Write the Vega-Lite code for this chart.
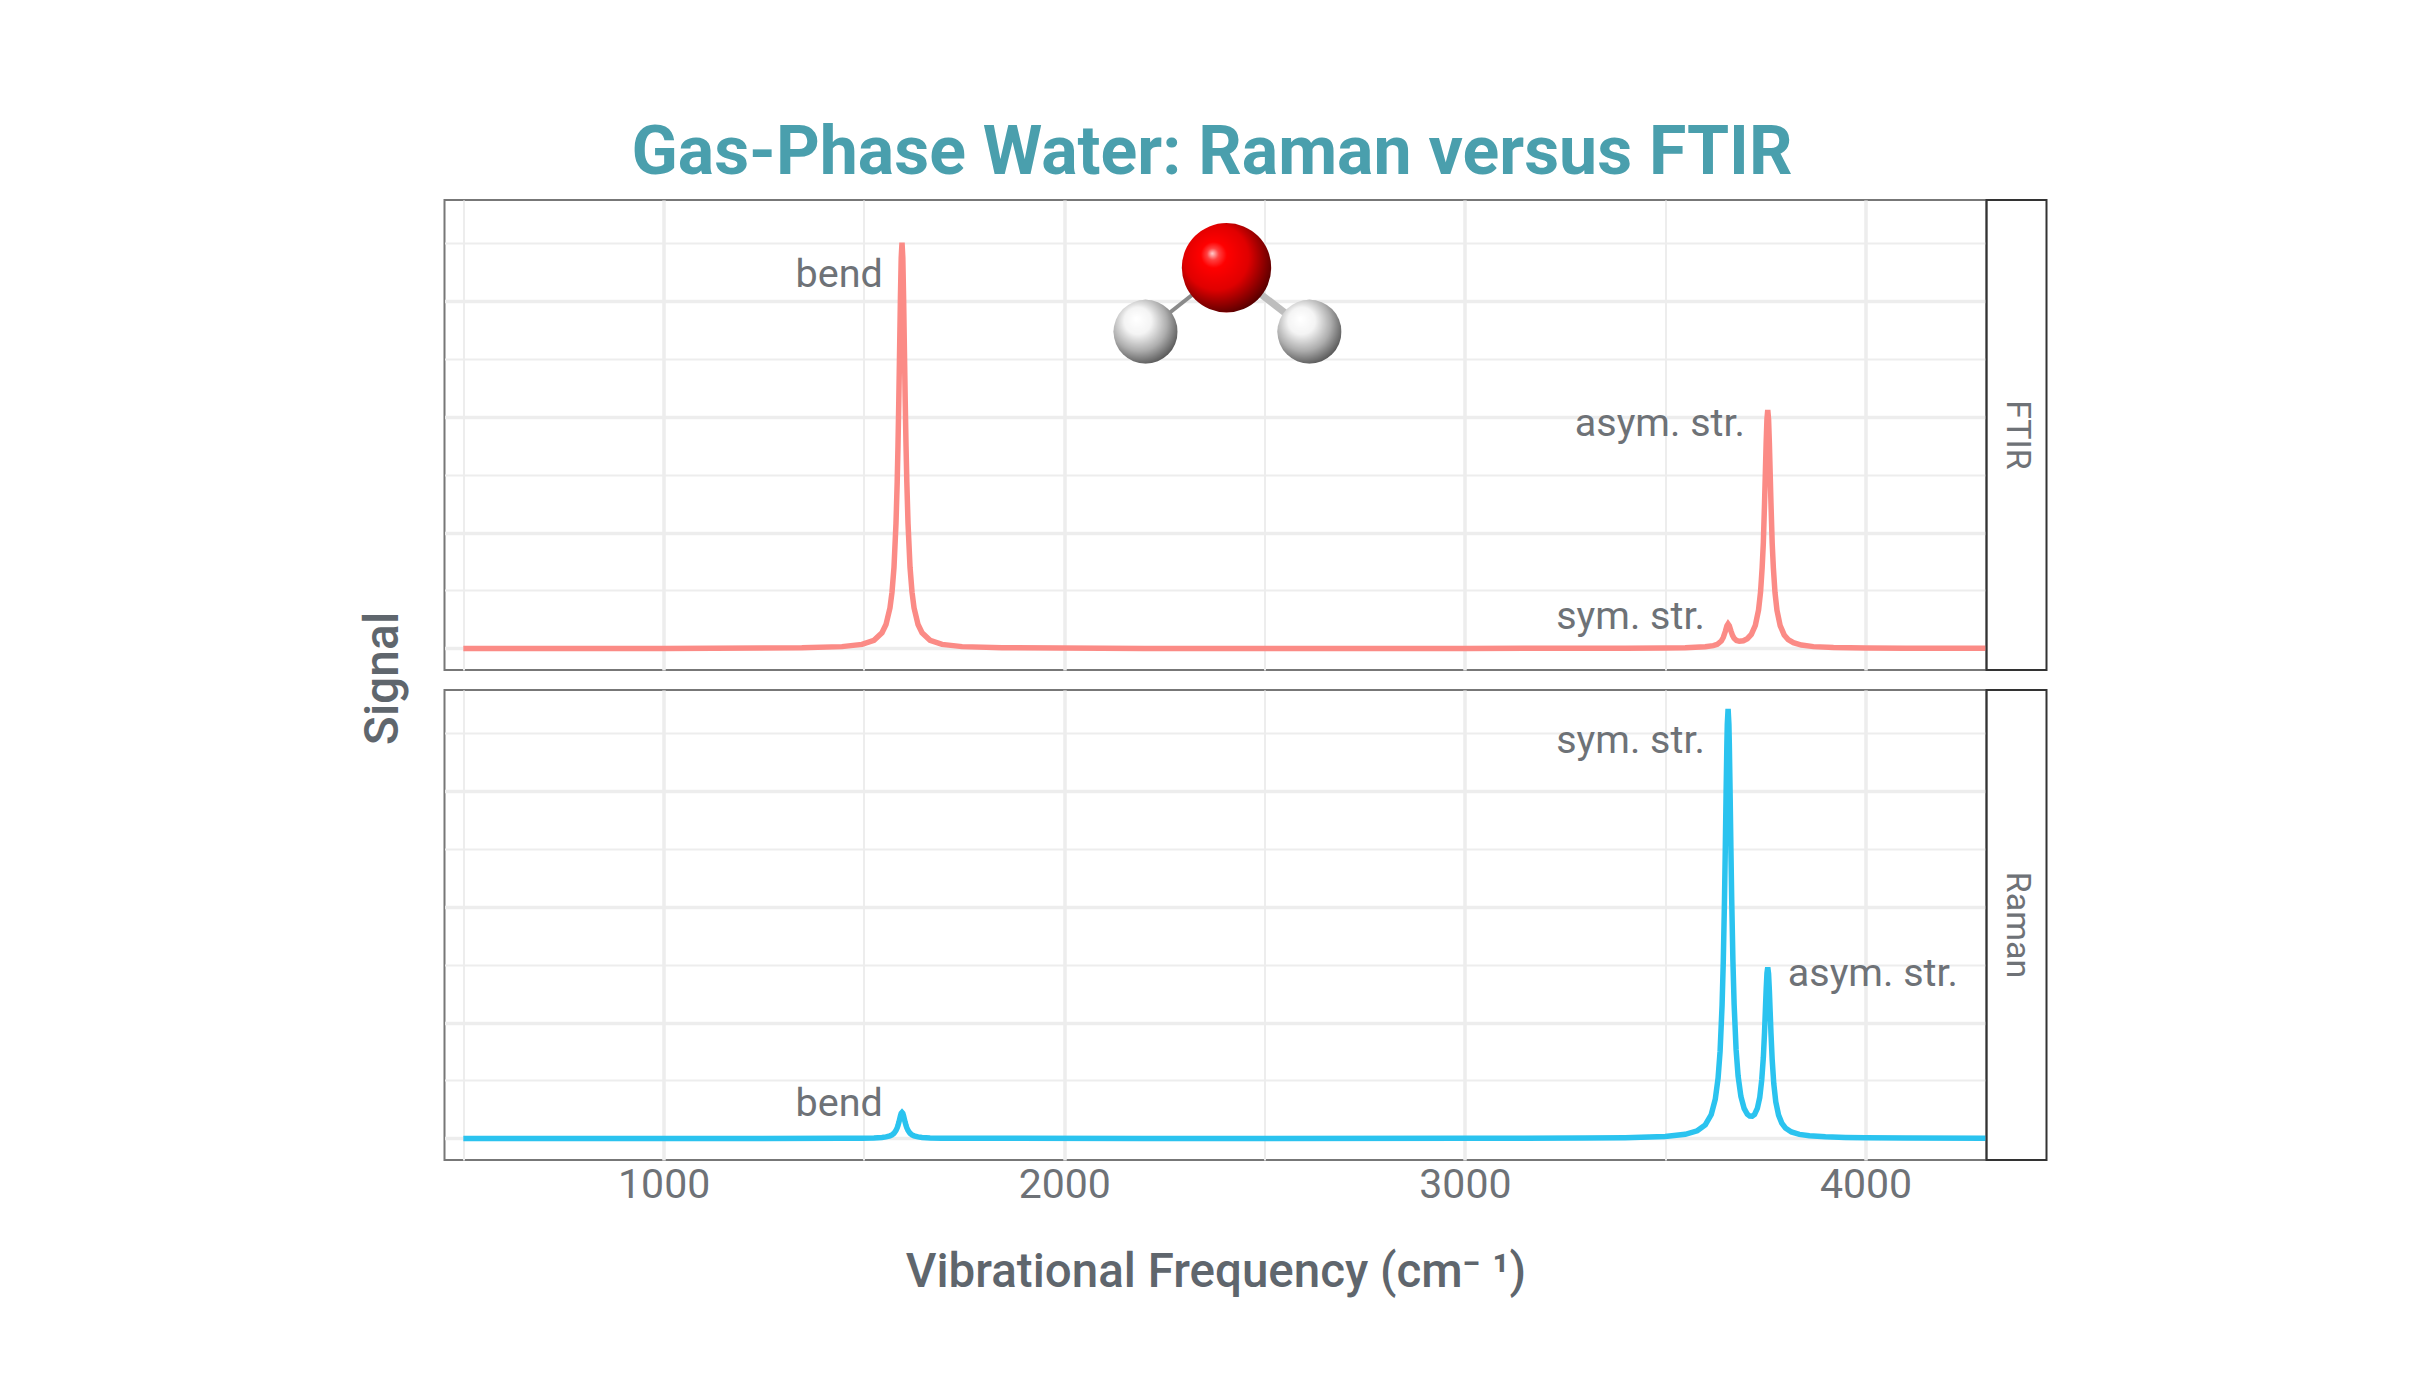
{
  "$schema": "https://vega.github.io/schema/vega-lite/v6.json",
  "background": "white",
  "padding": {"left": 358.5, "top": 120, "right": 10, "bottom": 10},
  "bounds": "flush",
  "title": {
    "text": "Gas-Phase Water: Raman versus FTIR",
    "anchor": "middle",
    "dx": 9,
    "font": "Roboto",
    "fontSize": 68,
    "fontWeight": 700,
    "color": "#4A9FAD",
    "offset": 11
  },
  "config": {
    "font": "Roboto",
    "view": {"stroke": "#777777", "strokeWidth": 2},
    "axis": {
      "domain": false,
      "ticks": false,
      "labels": false,
      "grid": true,
      "gridColor": "#EDEDED"
    }
  },
  "datasets": {
    "ftir": [
      {"freq": 500, "signal": 0},
      {"freq": 1000, "signal": 0},
      {"freq": 1345, "signal": 0.0014},
      {"freq": 1445, "signal": 0.0039},
      {"freq": 1495, "signal": 0.0087},
      {"freq": 1525, "signal": 0.0175},
      {"freq": 1545, "signal": 0.0337},
      {"freq": 1555, "signal": 0.0515},
      {"freq": 1565, "signal": 0.0875},
      {"freq": 1570, "signal": 0.121},
      {"freq": 1575, "signal": 0.175},
      {"freq": 1580, "signal": 0.27},
      {"freq": 1583, "signal": 0.359},
      {"freq": 1585, "signal": 0.4375},
      {"freq": 1587, "signal": 0.534},
      {"freq": 1589, "signal": 0.643},
      {"freq": 1591, "signal": 0.754},
      {"freq": 1593, "signal": 0.842},
      {"freq": 1595, "signal": 0.875},
      {"freq": 1597, "signal": 0.842},
      {"freq": 1599, "signal": 0.754},
      {"freq": 1601, "signal": 0.643},
      {"freq": 1603, "signal": 0.534},
      {"freq": 1605, "signal": 0.4375},
      {"freq": 1607, "signal": 0.359},
      {"freq": 1610, "signal": 0.27},
      {"freq": 1615, "signal": 0.175},
      {"freq": 1620, "signal": 0.121},
      {"freq": 1625, "signal": 0.0875},
      {"freq": 1635, "signal": 0.0515},
      {"freq": 1645, "signal": 0.0337},
      {"freq": 1665, "signal": 0.0175},
      {"freq": 1695, "signal": 0.0087},
      {"freq": 1745, "signal": 0.0039},
      {"freq": 1845, "signal": 0.0014},
      {"freq": 2200, "signal": 0},
      {"freq": 3000, "signal": 0},
      {"freq": 3300, "signal": 0.0003},
      {"freq": 3400, "signal": 0.0005},
      {"freq": 3500, "signal": 0.001},
      {"freq": 3550, "signal": 0.0016},
      {"freq": 3600, "signal": 0.0035},
      {"freq": 3620, "signal": 0.006},
      {"freq": 3630, "signal": 0.0089},
      {"freq": 3640, "signal": 0.016},
      {"freq": 3645, "signal": 0.0236},
      {"freq": 3650, "signal": 0.0364},
      {"freq": 3654, "signal": 0.0485},
      {"freq": 3657, "signal": 0.0527},
      {"freq": 3660, "signal": 0.0491},
      {"freq": 3664, "signal": 0.0379},
      {"freq": 3668, "signal": 0.0281},
      {"freq": 3672, "signal": 0.0218},
      {"freq": 3678, "signal": 0.0171},
      {"freq": 3685, "signal": 0.0154},
      {"freq": 3695, "signal": 0.0166},
      {"freq": 3705, "signal": 0.021},
      {"freq": 3715, "signal": 0.0303},
      {"freq": 3725, "signal": 0.0497},
      {"freq": 3733, "signal": 0.0827},
      {"freq": 3738, "signal": 0.1215},
      {"freq": 3742, "signal": 0.1742},
      {"freq": 3745, "signal": 0.228},
      {"freq": 3748, "signal": 0.314},
      {"freq": 3750, "signal": 0.3784},
      {"freq": 3752, "signal": 0.4436},
      {"freq": 3754, "signal": 0.4947},
      {"freq": 3756, "signal": 0.5144},
      {"freq": 3758, "signal": 0.4945},
      {"freq": 3760, "signal": 0.4434},
      {"freq": 3762, "signal": 0.3782},
      {"freq": 3764, "signal": 0.3137},
      {"freq": 3767, "signal": 0.2277},
      {"freq": 3770, "signal": 0.1738},
      {"freq": 3774, "signal": 0.1209},
      {"freq": 3779, "signal": 0.082},
      {"freq": 3787, "signal": 0.049},
      {"freq": 3797, "signal": 0.0291},
      {"freq": 3807, "signal": 0.0191},
      {"freq": 3820, "signal": 0.0124},
      {"freq": 3840, "signal": 0.0073},
      {"freq": 3870, "signal": 0.0039},
      {"freq": 3920, "signal": 0.0019},
      {"freq": 4000, "signal": 0.0009},
      {"freq": 4100, "signal": 0.0004},
      {"freq": 4300, "signal": 0.0002}
    ],
    "raman": [
      {"freq": 500, "signal": 0},
      {"freq": 1000, "signal": 0},
      {"freq": 1445, "signal": 0.0002},
      {"freq": 1495, "signal": 0.0006},
      {"freq": 1525, "signal": 0.0011},
      {"freq": 1545, "signal": 0.0022},
      {"freq": 1555, "signal": 0.0033},
      {"freq": 1565, "signal": 0.0056},
      {"freq": 1570, "signal": 0.0077},
      {"freq": 1575, "signal": 0.0112},
      {"freq": 1580, "signal": 0.0172},
      {"freq": 1583, "signal": 0.023},
      {"freq": 1585, "signal": 0.028},
      {"freq": 1587, "signal": 0.0342},
      {"freq": 1589, "signal": 0.0412},
      {"freq": 1591, "signal": 0.0483},
      {"freq": 1593, "signal": 0.0539},
      {"freq": 1595, "signal": 0.056},
      {"freq": 1597, "signal": 0.0539},
      {"freq": 1599, "signal": 0.0483},
      {"freq": 1601, "signal": 0.0412},
      {"freq": 1603, "signal": 0.0342},
      {"freq": 1605, "signal": 0.028},
      {"freq": 1607, "signal": 0.023},
      {"freq": 1610, "signal": 0.0172},
      {"freq": 1615, "signal": 0.0112},
      {"freq": 1620, "signal": 0.0077},
      {"freq": 1625, "signal": 0.0056},
      {"freq": 1635, "signal": 0.0033},
      {"freq": 1645, "signal": 0.0022},
      {"freq": 1665, "signal": 0.0011},
      {"freq": 1695, "signal": 0.0006},
      {"freq": 1745, "signal": 0.0002},
      {"freq": 2200, "signal": 0},
      {"freq": 3000, "signal": 0.0002},
      {"freq": 3300, "signal": 0.0009},
      {"freq": 3400, "signal": 0.0017},
      {"freq": 3500, "signal": 0.0043},
      {"freq": 3550, "signal": 0.0089},
      {"freq": 3580, "signal": 0.0165},
      {"freq": 3600, "signal": 0.0292},
      {"freq": 3615, "signal": 0.0515},
      {"freq": 3625, "signal": 0.0845},
      {"freq": 3632, "signal": 0.13},
      {"freq": 3637, "signal": 0.1876},
      {"freq": 3642, "signal": 0.2874},
      {"freq": 3645, "signal": 0.382},
      {"freq": 3648, "signal": 0.5141},
      {"freq": 3650, "signal": 0.6241},
      {"freq": 3652, "signal": 0.7434},
      {"freq": 3654, "signal": 0.8521},
      {"freq": 3655, "signal": 0.8929},
      {"freq": 3657, "signal": 0.926},
      {"freq": 3659, "signal": 0.893},
      {"freq": 3660, "signal": 0.8525},
      {"freq": 3662, "signal": 0.744},
      {"freq": 3664, "signal": 0.6251},
      {"freq": 3666, "signal": 0.5155},
      {"freq": 3669, "signal": 0.3838},
      {"freq": 3672, "signal": 0.2898},
      {"freq": 3677, "signal": 0.1908},
      {"freq": 3682, "signal": 0.1341},
      {"freq": 3689, "signal": 0.0903},
      {"freq": 3697, "signal": 0.0647},
      {"freq": 3705, "signal": 0.0522},
      {"freq": 3711, "signal": 0.0481},
      {"freq": 3717, "signal": 0.0478},
      {"freq": 3723, "signal": 0.0517},
      {"freq": 3730, "signal": 0.0646},
      {"freq": 3736, "signal": 0.0884},
      {"freq": 3741, "signal": 0.1265},
      {"freq": 3745, "signal": 0.175},
      {"freq": 3748, "signal": 0.23},
      {"freq": 3750, "signal": 0.2752},
      {"freq": 3752, "signal": 0.3205},
      {"freq": 3754, "signal": 0.356},
      {"freq": 3756, "signal": 0.369},
      {"freq": 3758, "signal": 0.355},
      {"freq": 3760, "signal": 0.319},
      {"freq": 3762, "signal": 0.273},
      {"freq": 3764, "signal": 0.2276},
      {"freq": 3767, "signal": 0.1707},
      {"freq": 3771, "signal": 0.1182},
      {"freq": 3776, "signal": 0.079},
      {"freq": 3783, "signal": 0.0503},
      {"freq": 3791, "signal": 0.033},
      {"freq": 3800, "signal": 0.0226},
      {"freq": 3815, "signal": 0.014},
      {"freq": 3835, "signal": 0.0087},
      {"freq": 3860, "signal": 0.0056},
      {"freq": 3900, "signal": 0.0035},
      {"freq": 3950, "signal": 0.0021},
      {"freq": 4000, "signal": 0.0014},
      {"freq": 4100, "signal": 0.0008},
      {"freq": 4300, "signal": 0.0003}
    ],
    "ftir_labels": [
      {"freq": 1547, "signal": 0.806, "mode": "bend", "side": "before"},
      {"freq": 3699, "signal": 0.485, "mode": "asym. str.", "side": "before"},
      {"freq": 3599, "signal": 0.067, "mode": "sym. str.", "side": "before"}
    ],
    "raman_labels": [
      {"freq": 1547, "signal": 0.075, "mode": "bend", "side": "before"},
      {"freq": 3599, "signal": 0.858, "mode": "sym. str.", "side": "before"},
      {"freq": 3806, "signal": 0.355, "mode": "asym. str.", "side": "after"}
    ],
    "atoms": [
      {"atom": "O", "freq": 2405, "signal": 0.821},
      {"atom": "H", "freq": 2203, "signal": 0.683},
      {"atom": "H", "freq": 2612, "signal": 0.683}
    ],
    "bonds": [
      {"bond": "left", "freq": 2405, "signal": 0.821, "freq2": 2203, "signal2": 0.683},
      {"bond": "right", "freq": 2405, "signal": 0.821, "freq2": 2612, "signal2": 0.683}
    ],
    "strip_ftir": [{"panel": "FTIR"}],
    "strip_raman": [{"panel": "Raman"}]
  },
  "columns": 2,
  "spacing": {"row": 20, "column": 0},
  "concat": [
    {
      "width": 1542,
      "height": 470,
      "encoding": {
        "x": {
          "field": "freq",
          "type": "quantitative",
          "scale": {"domain": [453, 4302], "nice": false},
          "axis": {
            "title": null,
            "values": [500, 1000, 1500, 2000, 2500, 3000, 3500, 4000],
            "gridWidth": {"condition": {"test": "datum.value % 1000 === 0", "value": 3.5}, "value": 2}
          }
        },
        "y": {
          "field": "signal",
          "type": "quantitative",
          "scale": {"domain": [-0.0465, 0.967], "nice": false},
          "axis": {
            "values": [0, 0.125, 0.25, 0.375, 0.5, 0.625, 0.75, 0.875],
            "gridWidth": {"condition": {"test": "datum.value % 0.25 === 0", "value": 3.5}, "value": 2},
            "title": "Signal",
            "titleFontSize": 48,
            "titleFontWeight": 500,
            "titleColor": "#5F666D",
            "titleX": -61,
            "titleY": 478,
            "titleAngle": 270,
            "titleAlign": "center",
            "titleBaseline": "middle"
          }
        }
      },
      "layer": [
        {
          "data": {"name": "ftir"},
          "mark": {"type": "line", "color": "#FB8B86", "strokeWidth": 5.5}
        },
        {
          "data": {"name": "ftir_labels"},
          "mark": {"type": "text", "font": "Roboto", "fontSize": 39.5, "color": "#6E7277", "align": "right", "baseline": "middle"},
          "encoding": {"text": {"field": "mode", "type": "nominal"}}
        },
        {
          "data": {"name": "bonds"},
          "transform": [{"filter": "datum.bond === 'left'"}],
          "mark": {"type": "rule", "color": "#8A8A8A", "strokeWidth": 4},
          "encoding": {"x2": {"field": "freq2"}, "y2": {"field": "signal2"}}
        },
        {
          "data": {"name": "bonds"},
          "transform": [{"filter": "datum.bond === 'right'"}],
          "mark": {"type": "rule", "color": "#BDBDBD", "strokeWidth": 7},
          "encoding": {"x2": {"field": "freq2"}, "y2": {"field": "signal2"}}
        },
        {
          "data": {"name": "atoms"},
          "transform": [{"filter": "datum.atom === 'H'"}],
          "mark": {
            "type": "point",
            "shape": "circle",
            "filled": true,
            "opacity": 1,
            "size": 4096,
            "fill": {
              "gradient": "radial",
              "x1": 0.36, "y1": 0.3, "r1": 0.02,
              "x2": 0.42, "y2": 0.4, "r2": 0.66,
              "stops": [
                {"offset": 0, "color": "#FFFFFF"},
                {"offset": 0.3, "color": "#F4F4F4"},
                {"offset": 0.65, "color": "#ADADAD"},
                {"offset": 1, "color": "#4C4C4C"}
              ]
            }
          }
        },
        {
          "data": {"name": "atoms"},
          "transform": [{"filter": "datum.atom === 'O'"}],
          "mark": {
            "type": "point",
            "shape": "circle",
            "filled": true,
            "opacity": 1,
            "size": 7992,
            "fill": {
              "gradient": "radial",
              "x1": 0.34, "y1": 0.34, "r1": 0,
              "x2": 0.42, "y2": 0.42, "r2": 0.66,
              "stops": [
                {"offset": 0, "color": "#FFD0D0"},
                {"offset": 0.1, "color": "#FF4040"},
                {"offset": 0.22, "color": "#FF0000"},
                {"offset": 0.55, "color": "#E00000"},
                {"offset": 1, "color": "#400000"}
              ]
            }
          }
        }
      ]
    },
    {
      "width": 60,
      "height": 470,
      "view": {"stroke": "#333333", "strokeWidth": 2},
      "data": {"name": "strip_ftir"},
      "mark": {"type": "text", "font": "Roboto", "fontSize": 34, "color": "#6E7277", "angle": 90, "align": "center", "baseline": "middle"},
      "encoding": {"text": {"field": "panel", "type": "nominal"}}
    },
    {
      "width": 1542,
      "height": 470,
      "encoding": {
        "x": {
          "field": "freq",
          "type": "quantitative",
          "scale": {"domain": [453, 4302], "nice": false},
          "axis": {
            "values": [500, 1000, 1500, 2000, 2500, 3000, 3500, 4000],
            "gridWidth": {"condition": {"test": "datum.value % 1000 === 0", "value": 3.5}, "value": 2},
            "labels": true,
            "labelExpr": "datum.value % 1000 === 0 ? format(datum.value, 'd') : ''",
            "labelFontSize": 41,
            "labelColor": "#6E7277",
            "labelPadding": 5,
            "labelBaseline": "top",
            "title": "Vibrational Frequency (cm⁻ ¹)",
            "titleFontSize": 47.5,
            "titleFontWeight": 500,
            "titleColor": "#5F666D",
            "titlePadding": 43
          }
        },
        "y": {
          "field": "signal",
          "type": "quantitative",
          "scale": {"domain": [-0.0465, 0.967], "nice": false},
          "axis": {
            "title": null,
            "values": [0, 0.125, 0.25, 0.375, 0.5, 0.625, 0.75, 0.875],
            "gridWidth": {"condition": {"test": "datum.value % 0.25 === 0", "value": 3.5}, "value": 2}
          }
        }
      },
      "layer": [
        {
          "data": {"name": "raman"},
          "mark": {"type": "line", "color": "#2BC3EF", "strokeWidth": 5.5}
        },
        {
          "data": {"name": "raman_labels"},
          "transform": [{"filter": "datum.side === 'before'"}],
          "mark": {"type": "text", "font": "Roboto", "fontSize": 39.5, "color": "#6E7277", "align": "right", "baseline": "middle"},
          "encoding": {"text": {"field": "mode", "type": "nominal"}}
        },
        {
          "data": {"name": "raman_labels"},
          "transform": [{"filter": "datum.side === 'after'"}],
          "mark": {"type": "text", "font": "Roboto", "fontSize": 39.5, "color": "#6E7277", "align": "left", "baseline": "middle"},
          "encoding": {"text": {"field": "mode", "type": "nominal"}}
        }
      ]
    },
    {
      "width": 60,
      "height": 470,
      "view": {"stroke": "#333333", "strokeWidth": 2},
      "data": {"name": "strip_raman"},
      "mark": {"type": "text", "font": "Roboto", "fontSize": 34, "color": "#6E7277", "angle": 90, "align": "center", "baseline": "middle"},
      "encoding": {"text": {"field": "panel", "type": "nominal"}}
    }
  ]
}
